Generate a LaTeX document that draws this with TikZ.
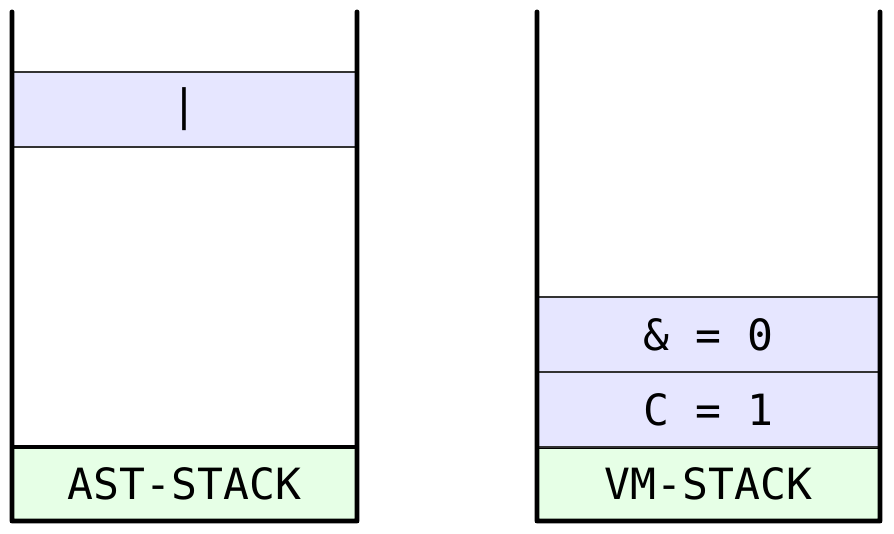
\documentclass[tikz,border=0pt]{standalone}
\usepackage{fontspec}
\setmonofont{DejaVu Sans Mono}
\usepackage{tikz}
\usetikzlibrary{positioning}

\definecolor{slotblue}{HTML}{E6E6FF}
\definecolor{labelgreen}{HTML}{E6FFE6}

\begin{document}
\begin{tikzpicture}[x=0.02cm, y=-0.02cm,
        slot/.style={rectangle, draw=black!80, line width=0.8pt, fill=slotblue,
          minimum width=6.9cm, minimum height=1.5cm, inner sep=0pt, outer sep=0pt,
          font=\ttfamily\fontsize{24.5}{28}\selectfont},
        stacklabel/.style={rectangle, draw, line width=2.8pt, fill=labelgreen,
          minimum width=6.9cm, minimum height=1.48cm, inner sep=0pt, outer sep=0pt,
          font=\ttfamily\fontsize{24.5}{28}\selectfont},
        wall/.style={line width=2.8pt, line cap=round, line join=round}]

        \useasboundingbox (0,0) rectangle (894,534);

        % left stack
        \node[stacklabel] (ast) at (184.5,484) {AST-STACK};
        \node[slot] (astbar) at (184.5,109.5) {|};
        \coordinate (asttl) at (12,12);
        \coordinate (asttr) at (357,12);

        % right stack
        \node[stacklabel, minimum width=6.86cm] (vm) at (708.5,484) {VM-STACK};
        \node[slot, minimum width=6.86cm, above=0pt of vm] (vmc) {C = 1};
        \node[slot, minimum width=6.86cm, above=0pt of vmc] (vmamp) {\& = 0};
        \coordinate (vmtl) at (537,12);
        \coordinate (vmtr) at (880,12);

        \draw[wall] (asttl) -- (ast.south west) -- (ast.south east) -- (asttr);
        \draw[wall] (vmtl) -- (vm.south west) -- (vm.south east) -- (vmtr);
      \end{tikzpicture}
\end{document}
